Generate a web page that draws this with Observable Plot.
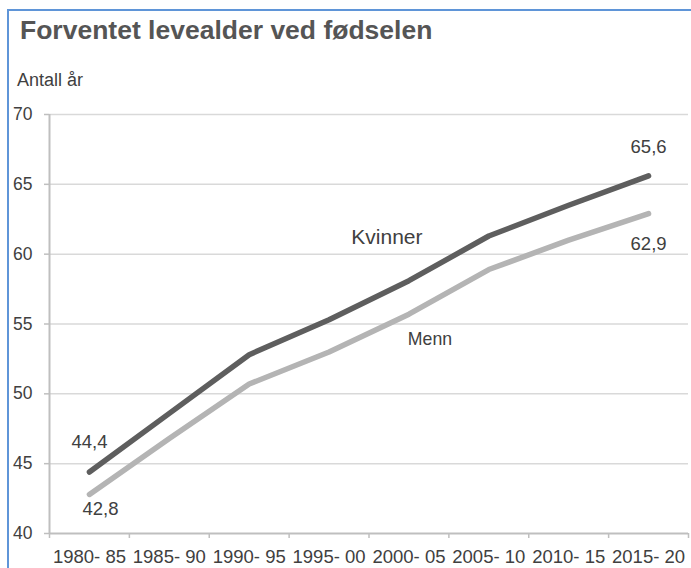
<!DOCTYPE html>
<html>
<head>
<meta charset="utf-8">
<script src="https://cdn.jsdelivr.net/npm/d3@7"></script>
<script src="https://cdn.jsdelivr.net/npm/@observablehq/plot@0.6"></script>
<style>
  html, body { margin: 0; padding: 0; background: #fff; }
  body { width: 691px; height: 568px; position: relative; overflow: hidden; font-family: "Liberation Sans", Arial, sans-serif; }
  #border { position: absolute; left: 7px; top: 9px; width: 700px; height: 600px; border-top: 2px solid #5f95d8; border-left: 2px solid #5f95d8; z-index: 2; pointer-events: none; }
  #title { position: absolute; left: 20px; top: 17px; font-size: 26.5px; line-height: 26.5px; font-weight: bold; color: #555555; white-space: nowrap; }
  #subtitle { position: absolute; left: 17px; top: 71px; font-size: 18px; line-height: 18px; color: #404040; white-space: nowrap; }
  #chart { position: absolute; left: 0; top: 100px; }
</style>
</head>
<body>
<div id="title">Forventet levealder ved fødselen</div>
<div id="subtitle">Antall år</div>
<div id="chart"></div>
<div id="border"></div>
<script>
const categories = ["1980- 85", "1985- 90", "1990- 95", "1995- 00", "2000- 05", "2005- 10", "2010- 15", "2015- 20"];
const kvinner = [44.4, 48.6, 52.8, 55.3, 58.1, 61.3, 63.5, 65.6];
const menn = [42.8, 46.8, 50.7, 53.0, 55.7, 58.9, 61.0, 62.9];
const yTicks = [40, 45, 50, 55, 60, 65, 70];
const seriesNames = ["Kvinner", "Menn"];

const rows = categories.map((c, i) => ({i, cat: c, kvinner: kvinner[i], menn: menn[i]}));
const n = categories.length;
const xDomain = [-0.5, n - 0.5];
const yDomain = [yTicks[0], yTicks[yTicks.length - 1]];
const edges = d3.range(n + 1).map(k => k - 0.5);
const fmt = v => v.toFixed(1).replace(".", ",");
const first = rows[0], last = rows[n - 1], mid = rows[4];

const axisColor = "#bfbfbf";
const textColor = "#404040";

const chart = Plot.plot({
  width: 691,
  height: 468,
  marginTop: 14,
  marginBottom: 35,
  marginLeft: 49,
  marginRight: 3,
  style: {fontFamily: "'Liberation Sans', Arial, sans-serif", fontSize: "17.5px", background: "transparent", color: textColor},
  x: {domain: xDomain},
  y: {domain: yDomain},
  marks: [
    Plot.gridY({ticks: yTicks.slice(1), stroke: "#d9d9d9", strokeOpacity: 1, strokeWidth: 1.5}),
    Plot.ruleX([xDomain[0]], {y1: yDomain[0], y2: yDomain[1], stroke: axisColor, strokeWidth: 2}),
    Plot.ruleY([yDomain[0]], {stroke: axisColor, strokeWidth: 2}),
    Plot.axisY({ticks: yTicks, tickSize: 5, tickPadding: 12, stroke: axisColor, strokeWidth: 1.5, fill: textColor, label: null, fontSize: 17.5}),
    Plot.axisX({ticks: edges, tickSize: 5, tickFormat: () => "", stroke: axisColor, strokeWidth: 1.5, label: null}),
    Plot.axisX({ticks: d3.range(n), tickSize: 0, tickPadding: 16, tickFormat: i => categories[i], fill: textColor, label: null, fontSize: 18.5}),
    Plot.line(rows, {x: "i", y: "menn", stroke: "#b4b4b4", strokeWidth: 5.5, strokeLinecap: "round", strokeLinejoin: "round"}),
    Plot.line(rows, {x: "i", y: "kvinner", stroke: "#5e5e5e", strokeWidth: 5.5, strokeLinecap: "round", strokeLinejoin: "round"}),
    Plot.text([first], {x: "i", y: "kvinner", text: d => fmt(d.kvinner), dy: -30, fill: textColor, fontSize: 18.5}),
    Plot.text([first], {x: "i", y: "menn", text: d => fmt(d.menn), dx: 11, dy: 15, fill: textColor, fontSize: 18.5}),
    Plot.text([last], {x: "i", y: "kvinner", text: d => fmt(d.kvinner), dy: -29, fill: textColor, fontSize: 18.5}),
    Plot.text([last], {x: "i", y: "menn", text: d => fmt(d.menn), dy: 30.5, fill: textColor, fontSize: 18.5}),
    Plot.text([mid], {x: "i", y: "kvinner", text: () => seriesNames[0], dx: -22, dy: -43, fill: textColor, fontSize: 21}),
    Plot.text([mid], {x: "i", y: "menn", text: () => seriesNames[1], dx: 21, dy: 25, fill: textColor, fontSize: 17.7})
  ]
});
document.getElementById("chart").appendChild(chart);
</script>
</body>
</html>
